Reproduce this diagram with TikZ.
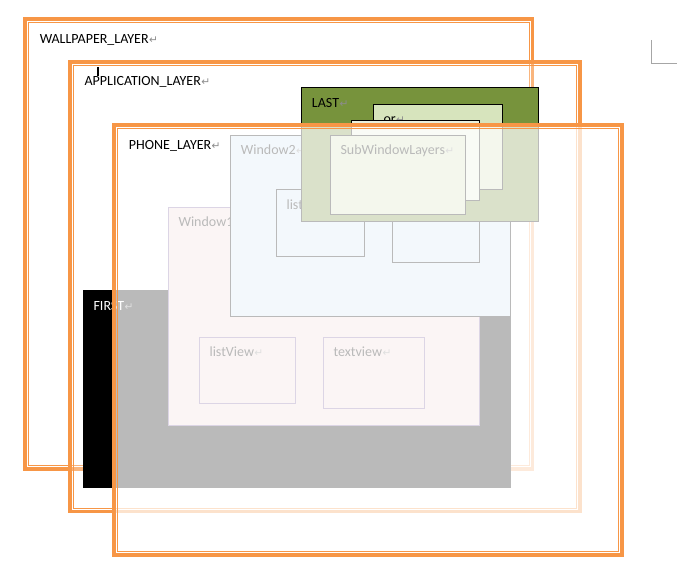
\documentclass[tikz,border=0pt]{standalone}
\usepackage{fontspec}
\setmainfont{Carlito}
\newfontfamily\symfont{DejaVu Sans}
\usepackage{tikz}
\usepackage{xcolor}

\definecolor{layerorange}{HTML}{F79646}
\definecolor{lastgreen}{HTML}{77933C}
\definecolor{orgreen}{HTML}{D7E4BD}
\definecolor{palegreen}{HTML}{EBF1DE}
\definecolor{winpink}{HTML}{F2DCDB}
\definecolor{winpurple}{HTML}{8064A2}
\definecolor{winblue}{HTML}{D6E7F4}
\definecolor{retgray}{HTML}{8C8C8C}
\definecolor{cornergray}{HTML}{A6A6A6}

\newcommand{\ret}{{\symfont\fontsize{8}{8}\selectfont\color{retgray}\kern0.3pt ↵}}

\begin{document}
\begin{tikzpicture}[x=0.75pt, y=-0.75pt,
    layerthick/.style={draw=layerorange, line width=2.7pt},
    layerthin/.style={draw=layerorange, line width=0.7pt},
    winbox/.style={draw=black, line width=0.75pt},
    viewbox/.style={fill=winpink, draw=winpurple, line width=0.75pt},
    lbl/.style={anchor=base west, inner sep=0pt, font=\fontsize{10.5}{12}\selectfont}]
                        \useasboundingbox (0,0) rectangle (677,584);
                        % wallpaper layer
                        \draw[layerthick] (24.8,18.8) rectangle (532.5,468.9);
                        \draw[layerthin] (28.1,22.1) rectangle (529.2,465.6);
                        \node[lbl] (wallpaper) at (39.5,43.3) {WALLPAPER\_LAYER\ret};
                        % application layer
                        \fill[white, fill opacity=0.3] (68,60.3) rectangle (581.7,513.3);
                        \draw[layerthick] (69.8,62.1) rectangle (579.9,511.5);
                        \draw[layerthin] (73.1,65.4) rectangle (576.6,508.2);
                        \node[lbl] (application) at (84.3,86) {APPLICATION\_LAYER\ret};
                        % first
                        \fill[black] (83,290) rectangle (511,487.7);
                        \node[lbl, text=white] (first) at (93.3,310) {FIRST\ret};
                        % window1
                        \draw[viewbox] (168.3,207.3) rectangle (479.7,425.3);
                        \node[lbl] (window1) at (178.3,226.7) {Window1};
                        \draw[viewbox] (199.3,337.3) rectangle (295.7,403.3);
                        \node[lbl] (listview) at (209.3,356.7) {listView\ret};
                        \draw[viewbox] (323.3,337.3) rectangle (424.7,408.3);
                        \node[lbl] (textview) at (333.3,356.7) {textview\ret};
                        % window2
                        \draw[winbox, fill=winblue] (230.3,135.3) rectangle (510.3,316);
                        \node[lbl] (window2) at (240.7,155) {Window2\ret};
                        \draw[winbox, fill=winblue] (276.3,189.3) rectangle (364.3,256.3);
                        \node[lbl] (list) at (286.3,209.3) {list};
                        \draw[winbox, fill=winblue] (392.3,189.3) rectangle (479.7,262.3);
                        % last
                        \draw[winbox, fill=lastgreen] (301.3,87.3) rectangle (538.7,221.3);
                        \node[lbl] (last) at (311.7,108) {LAST\ret};
                        \draw[winbox, fill=orgreen] (373.3,104.3) rectangle (502.3,189.3);
                        \node[lbl] (or) at (383.3,124) {or\ret};
                        \draw[winbox, fill=palegreen] (351.3,120.3) rectangle (479.7,200.3);
                        \draw[winbox, fill=orgreen] (330.3,135.3) rectangle (465.7,214.3);
                        \node[lbl] (subwindow) at (340.3,155) {SubWindowLayers\ret};
                        % phone layer
                        \fill[white, fill opacity=0.73] (112,123) rectangle (623.7,556.7);
                        \draw[layerthick] (113.8,124.8) rectangle (621.9,554.9);
                        \draw[layerthin] (117.1,128.1) rectangle (618.6,551.6);
                        \node[lbl] (phone) at (128.7,149.3) {PHONE\_LAYER\ret};
                        % cursor and page corner
                        \draw[line width=1pt] (98,67) -- (98,76);
                        \draw[cornergray, line width=0.9pt] (651.3,40) -- (651.3,63.3) -- (677,63.3);
                    \end{tikzpicture}
\end{document}
